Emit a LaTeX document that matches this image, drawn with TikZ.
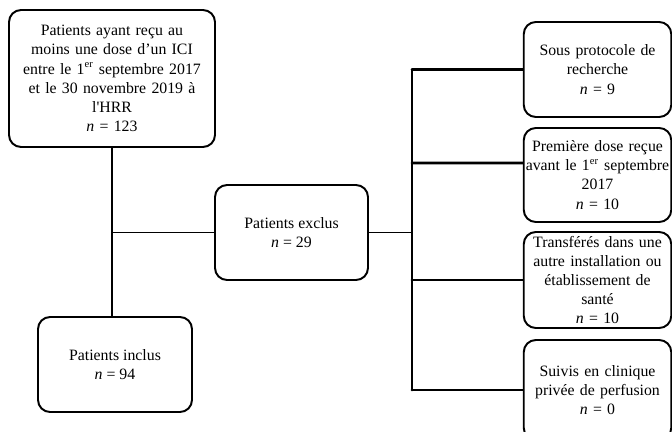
\documentclass[tikz,border=0pt]{standalone}
\usepackage{fontspec}
\setmainfont{Liberation Serif}
\usepackage{tikz}

\begin{document}
\begin{tikzpicture}
		[x=0.02cm,y=-0.02cm,line cap=round,
		%Styles
		box/.style={draw,rectangle,rounded corners=0.24cm,line width=1.1pt,
			align=center,inner sep=1pt,font=\fontsize{9}{10.9}\selectfont},
		side box/.style={box,minimum width=2.9cm,text width=2.88cm},
		thin link/.style={line width=1pt},
		thick link/.style={line width=1.6pt}
		]
		
		\useasboundingbox (0,0) rectangle (672,432);
		
		%The boxes
		\node[box,minimum width=4.12cm,minimum height=2.74cm,text width=4.05cm] (start) at (112,78.5)
			{Patients ayant reçu au\\ moins une dose d'un ICI\\ entre le 1\textsuperscript{er} septembre 2017\\ et le 30 novembre 2019 à\\ l\textquotesingle HRR\\ \textit{n} = 123};
		\node[box,minimum width=3.08cm,minimum height=1.9cm] (incl) at (115,364.5)
			{Patients inclus\\ \textit{n} = 94};
		\node[box,minimum width=3.06cm,minimum height=1.9cm] (excl) at (291.5,232.5)
			{Patients exclus\\ \textit{n} = 29};
		
		\node[side box,minimum height=1.9cm] (proto) at (597.5,69.5)
			{Sous protocole de\\ recherche\\ \textit{n} = 9};
		\node[side box,minimum height=1.88cm] (avant) at (597.5,175)
			{Première dose reçue\\ avant le 1\textsuperscript{er} septembre\\ 2017\\ \textit{n} = 10};
		\node[side box,minimum height=1.92cm] (transf) at (597.5,280)
			{Transférés dans une\\ autre installation ou\\ établissement de\\ santé\\ \textit{n} = 10};
		\node[side box,minimum height=2cm] (prive) at (597.5,390)
			{Suivis en clinique\\ privée de perfusion\\ \textit{n} = 0};
		
		%The links
		\draw[thin link] (start.south) -- (start.south |- incl.north);
		\draw[thin link] (start.south |- excl.west) -- (excl.west);
		
		\coordinate (split) at (412,232.5);
		\draw[thin link] (excl.east) -- (split);
		\draw[thick link] (split |- proto.west) -- (split |- prive.west);
		\draw[thick link] (split |- proto.west) -- (proto.west);
		\draw[thick link] (split |- 0,163) -- ([yshift=0.24cm]avant.west);
		\draw[thick link] (split |- transf.west) -- (transf.west);
		\draw[thick link] (split |- prive.west) -- (prive.west);
	\end{tikzpicture}
\end{document}
